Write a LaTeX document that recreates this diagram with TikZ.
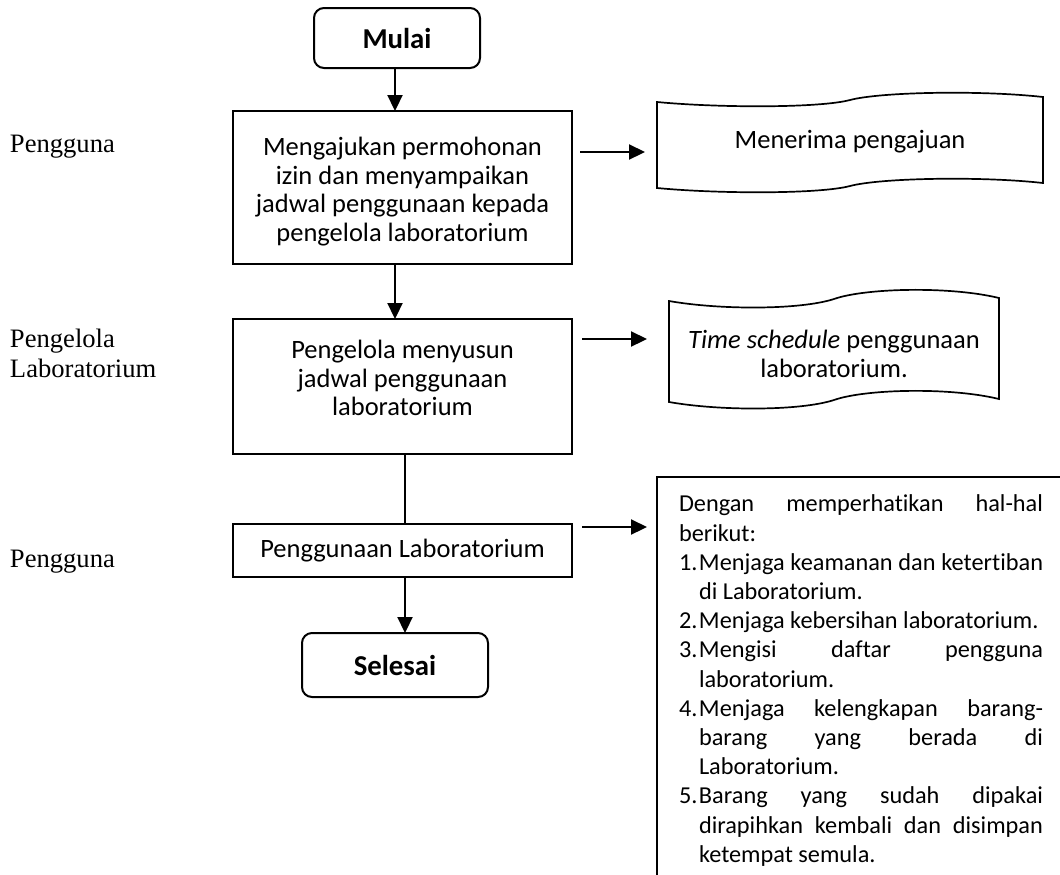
\documentclass[tikz,border=0pt]{standalone}
\usepackage{fontspec}
\setmainfont{Carlito}[Ligatures=NoCommon]
\newfontfamily\tnr{Liberation Serif}
\usetikzlibrary{arrows.meta,calc}
\begin{document}
\begin{tikzpicture}[x=0.5pt,y=-0.5pt,
  every node/.style={inner sep=0pt, outer sep=0pt},
  txt/.style={font=\fontsize{13.25}{14.35}\selectfont, align=center},
  proc/.style={txt, draw, line width=1pt, rectangle, minimum width=169.5pt},
  term/.style={draw, line width=1pt, rounded corners=5pt, font=\bfseries\fontsize{14.4}{16}\selectfont},
  arr/.style={line width=1.1pt, -{Triangle[length=8pt,width=7.5pt]}},
  conn/.style={line width=1.1pt},
  lane/.style={font=\tnr\fontsize{13.3}{15}\selectfont, anchor=base west},
  tape/.style={line width=0.85pt},
  notes/.style={anchor=north west, text width=182pt, align=justify, font=\fontsize{12.15}{14.6}\selectfont},
]
\useasboundingbox (0,0) rectangle (1060,874);
\clip (0,0) rectangle (1060,874);

% lane labels
\node[lane] (l1) at (10,152.6) {Pengguna};
\node[lane] (l2a) at (10,347.6) {Pengelola};
\node[lane] (l2b) at (10,377.6) {Laboratorium};
\node[lane] (l3) at (10,567.6) {Pengguna};

% main flow
\node[term, minimum width=83pt, minimum height=30pt] (mulai) at (397,38) {\raisebox{-3pt}{Mulai}};
\node[proc, minimum height=76.5pt,
  label={[txt, yshift=-2pt]center:Mengajukan permohonan\\izin dan menyampaikan\\jadwal penggunaan kepada\\pengelola laboratorium}] (b1) at (402.5,187.5) {};
\node[proc, minimum height=67.5pt,
  label={[txt, yshift=4.25pt]center:Pengelola menyusun\\jadwal penggunaan\\laboratorium}] (b2) at (402.5,386.5) {};
\node[proc, minimum height=26.5pt] (b3) at (402.5,550.5) {\raisebox{-3.5pt}{Penggunaan Laboratorium}};
\node[term, minimum width=93pt, minimum height=32pt] (sel) at (395,665) {Selesai};

\draw[arr] ($(mulai.south)+(-2,0)$) -- ($(mulai.south |- b1.north)+(-2,0)$);
\draw[arr] ($(b1.south)+(-7.5,0)$) -- ($(b2.north)+(-7.5,0)$);
\draw[conn] ($(b2.south)+(2.5,0)$) -- ($(b3.north)+(2.5,0)$);
\draw[arr] ($(b3.south)+(2.5,0)$) -- ($(b3.south |- sel.north)+(2.5,0)$);

% outputs
\draw[tape] (657,102) .. controls (720,108) and (820,108) .. (850,100)
  .. controls (880,92) and (980,90) .. (1043,97) -- (1043,183)
  .. controls (980,176) and (880,178) .. (850,186)
  .. controls (820,194) and (720,194) .. (657,188) -- cycle;
\node[txt, anchor=base] (d1) at (850,148) {Menerima pengajuan};

\draw[tape] (669,301) .. controls (720,310) and (800,310) .. (834,299)
  .. controls (865,288) and (950,286) .. (999,298) -- (999,399)
  .. controls (950,387) and (865,389) .. (834,400)
  .. controls (800,411) and (720,411) .. (669,402) -- cycle;
\node[txt] (d2) at (834,354) {\textit{Time schedule} penggunaan\\laboratorium.};

\draw[line width=1pt] (1062,477) -- (657,477) -- (657,880);
\node[notes] (notes) at (679,495) {\parindent=0pt\parskip=0pt\hyphenpenalty=10000\exhyphenpenalty=10000
Dengan memperhatikan hal-hal\linebreak berikut:\par
\hangindent=10pt\hangafter=1\makebox[10pt][l]{1.}Menjaga keamanan dan ketertiban\linebreak di Laboratorium.\par
\hangindent=10pt\hangafter=1\makebox[10pt][l]{2.}Menjaga kebersihan laboratorium.\par
\hangindent=10pt\hangafter=1\makebox[10pt][l]{3.}Mengisi daftar pengguna\linebreak laboratorium.\par
\hangindent=10pt\hangafter=1\makebox[10pt][l]{4.}Menjaga kelengkapan barang-\linebreak{}barang yang berada di\linebreak Laboratorium.\par
\hangindent=10pt\hangafter=1\makebox[10pt][l]{5.}Barang yang sudah dipakai\linebreak dirapihkan kembali dan disimpan\linebreak ketempat semula.\par};

\coordinate (t1) at (645,152);
\coordinate (t2) at (647,339);
\coordinate (t3) at (647,527);
\draw[arr] ($(b1.east |- t1)+(8,0)$) -- (t1);
\draw[arr] ($(b2.east |- t2)+(10,0)$) -- (t2);
\draw[arr] ($(b3.east |- t3)+(10,0)$) -- (t3);
\end{tikzpicture}
\end{document}
